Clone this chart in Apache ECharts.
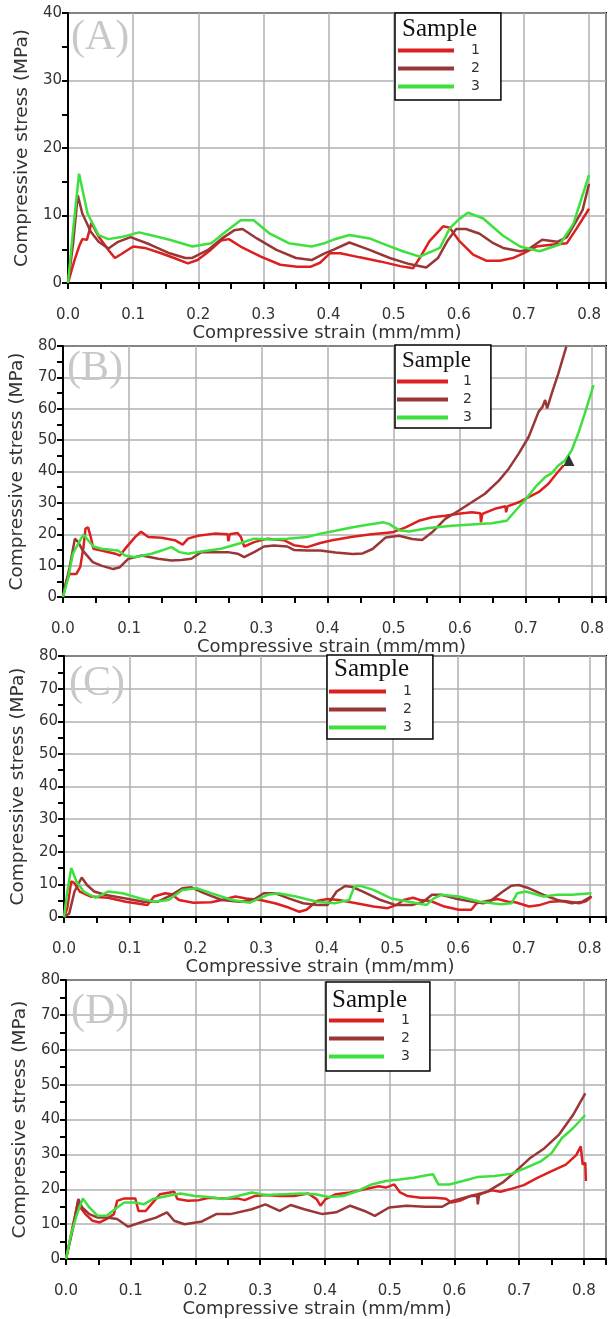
<!DOCTYPE html>
<html>
<head>
<meta charset="utf-8">
<script src="https://cdn.jsdelivr.net/npm/echarts@6/dist/echarts.min.js"></script>
<style>
  html, body { margin: 0; padding: 0; background: #fff; }
  #chart { width: 609px; height: 1319px; }
</style>
</head>
<body>
<div id="chart"></div>
<script>
// Stress–strain curves, [strain (mm/mm), stress (MPa)]

// (A)
const A1 = [[0,0],[0.01,3.4],[0.017,5.4],[0.022,6.5],[0.029,6.4],[0.036,8.9],[0.047,6.9],[0.062,4.9],[0.072,3.7],[0.082,4.3],[0.1,5.4],[0.118,5.2],[0.143,4.4],[0.163,3.7],[0.184,2.9],[0.199,3.4],[0.219,4.9],[0.235,6.3],[0.247,6.5],[0.265,5.4],[0.296,3.9],[0.326,2.7],[0.352,2.4],[0.372,2.4],[0.387,3.0],[0.402,4.4],[0.418,4.4],[0.448,3.8],[0.479,3.2],[0.51,2.5],[0.53,2.2],[0.54,3.7],[0.555,6.2],[0.576,8.4],[0.586,8.2],[0.601,6.2],[0.622,4.2],[0.642,3.3],[0.663,3.3],[0.683,3.7],[0.699,4.4],[0.719,5.4],[0.745,5.7],[0.766,5.9],[0.781,8.1],[0.8,11.0]];
const A2 = [[0,0],[0.008,6],[0.015,13.0],[0.022,10.3],[0.035,7.6],[0.047,6.1],[0.062,5.1],[0.077,6.1],[0.096,6.8],[0.126,5.7],[0.156,4.4],[0.18,3.7],[0.19,3.7],[0.215,4.9],[0.235,6.5],[0.255,7.8],[0.268,8.0],[0.29,6.6],[0.32,4.9],[0.35,3.7],[0.374,3.4],[0.394,4.4],[0.407,4.9],[0.432,6.0],[0.463,4.9],[0.494,3.7],[0.524,2.8],[0.55,2.3],[0.568,3.7],[0.583,6.3],[0.596,8.0],[0.611,8.0],[0.632,7.3],[0.653,5.9],[0.668,5.2],[0.694,4.7],[0.705,4.9],[0.728,6.4],[0.751,6.1],[0.766,6.8],[0.79,10.8],[0.8,14.7]];
const A3 = [[0,0],[0.008,8],[0.017,16.2],[0.03,10.3],[0.047,7.1],[0.062,6.5],[0.082,6.8],[0.109,7.5],[0.131,7.0],[0.156,6.4],[0.191,5.4],[0.22,5.9],[0.245,7.8],[0.265,9.3],[0.285,9.3],[0.31,7.3],[0.339,5.9],[0.374,5.4],[0.394,5.9],[0.407,6.4],[0.432,7.1],[0.463,6.6],[0.489,5.6],[0.514,4.7],[0.54,3.9],[0.571,5.2],[0.586,8.1],[0.601,9.5],[0.614,10.4],[0.637,9.6],[0.668,7.0],[0.694,5.4],[0.724,4.7],[0.755,5.7],[0.776,8.8],[0.79,13.0],[0.8,16.0]];

// (B)
const B1 = [[0,0],[0.005,5.2],[0.01,7.3],[0.02,7.3],[0.026,9.5],[0.031,15.9],[0.034,21.8],[0.038,22.2],[0.042,19.1],[0.046,15.4],[0.058,14.8],[0.079,13.8],[0.086,13.2],[0.096,15.9],[0.109,19.1],[0.118,20.8],[0.129,19.1],[0.149,18.9],[0.169,18.1],[0.181,16.7],[0.189,18.6],[0.204,19.5],[0.229,20.2],[0.249,20.0],[0.25,17.8],[0.252,20.0],[0.264,20.4],[0.269,19.1],[0.274,16.1],[0.289,17.5],[0.309,18.6],[0.334,18.1],[0.349,16.5],[0.369,15.9],[0.389,17.2],[0.407,18.1],[0.438,19.2],[0.463,19.9],[0.498,20.6],[0.518,22.2],[0.538,24.3],[0.558,25.4],[0.578,25.9],[0.598,26.5],[0.618,27.0],[0.631,26.7],[0.632,23.8],[0.634,26.5],[0.653,28.1],[0.669,28.9],[0.67,27.0],[0.672,28.9],[0.689,30.2],[0.704,31.8],[0.719,33.4],[0.734,36.1],[0.746,39.3],[0.757,42.0]];
const B2 = [[0,0],[0.01,9.5],[0.018,18.6],[0.023,17.5],[0.03,14.8],[0.045,11.1],[0.058,10.0],[0.076,8.9],[0.086,9.5],[0.099,12.2],[0.119,13.2],[0.144,12.2],[0.164,11.6],[0.179,11.8],[0.194,12.2],[0.209,14.3],[0.229,14.3],[0.249,14.3],[0.264,13.8],[0.274,12.7],[0.289,14.3],[0.304,16.1],[0.319,16.4],[0.339,16.1],[0.349,15.0],[0.369,14.8],[0.389,14.8],[0.412,14.2],[0.438,13.7],[0.453,13.9],[0.468,15.3],[0.488,19.0],[0.508,19.5],[0.528,18.5],[0.543,18.2],[0.558,20.6],[0.578,24.9],[0.598,27.5],[0.618,30.2],[0.638,32.9],[0.659,37.1],[0.674,40.9],[0.689,45.7],[0.704,51.0],[0.719,59.0],[0.725,60.6],[0.729,62.8],[0.732,60.1],[0.739,64.9],[0.749,71.3],[0.761,79.8]];
const B3 = [[0,0],[0.008,6.2],[0.015,13.8],[0.023,17.0],[0.031,19.9],[0.038,18.1],[0.046,16.1],[0.058,15.4],[0.083,14.8],[0.094,13.2],[0.109,12.7],[0.134,13.8],[0.149,14.8],[0.164,15.9],[0.176,14.3],[0.189,13.8],[0.209,14.5],[0.239,15.4],[0.269,17.2],[0.289,18.6],[0.314,18.3],[0.339,18.6],[0.369,19.1],[0.389,20.2],[0.412,21.1],[0.438,22.2],[0.463,23.1],[0.485,23.8],[0.493,23.3],[0.508,21.3],[0.523,20.9],[0.553,22.0],[0.588,22.7],[0.618,23.1],[0.648,23.5],[0.671,24.3],[0.684,27.5],[0.699,31.0],[0.714,35.0],[0.729,38.2],[0.739,39.5],[0.749,41.9],[0.759,43.5],[0.769,46.7],[0.779,52.1],[0.789,58.5],[0.799,65.4],[0.802,67.5]];
const B_MARK = [[0.765, 43.5]];

// (C)
const C1 = [[0,0],[0.005,2.7],[0.011,10.9],[0.016,10.4],[0.024,7.8],[0.04,6.3],[0.067,5.9],[0.094,4.7],[0.127,3.7],[0.137,6.3],[0.154,7.3],[0.164,7.0],[0.175,5.2],[0.197,4.4],[0.224,4.5],[0.24,5.2],[0.261,6.3],[0.277,5.7],[0.299,5.2],[0.321,4.2],[0.342,2.9],[0.358,1.6],[0.369,2.2],[0.385,4.9],[0.401,5.5],[0.418,5.2],[0.445,4.2],[0.471,3.2],[0.493,2.7],[0.506,3.7],[0.517,5.2],[0.531,5.9],[0.542,5.2],[0.558,4.9],[0.579,3.2],[0.601,2.2],[0.62,2.2],[0.628,4.2],[0.644,4.9],[0.66,5.5],[0.676,4.7],[0.687,4.5],[0.708,3.2],[0.725,3.7],[0.741,4.7],[0.762,4.9],[0.784,4.2],[0.795,4.9],[0.803,6.3]];
const C2 = [[0,0],[0.008,1.1],[0.016,7.8],[0.027,12.1],[0.035,9.8],[0.046,7.8],[0.062,6.8],[0.094,5.7],[0.121,4.7],[0.143,4.7],[0.164,6.8],[0.18,8.8],[0.194,9.1],[0.213,7.3],[0.24,5.2],[0.267,4.7],[0.288,5.2],[0.304,7.3],[0.321,7.3],[0.342,5.7],[0.364,4.2],[0.385,3.7],[0.401,3.7],[0.415,7.8],[0.428,9.5],[0.439,9.2],[0.455,7.8],[0.482,5.2],[0.504,3.7],[0.531,3.7],[0.547,4.7],[0.56,6.8],[0.574,6.8],[0.595,5.7],[0.622,4.7],[0.638,4.2],[0.649,4.9],[0.668,7.8],[0.681,9.6],[0.692,9.8],[0.708,8.8],[0.73,6.8],[0.751,5.2],[0.773,4.2],[0.789,4.7],[0.803,6.3]];
const C3 = [[0,0],[0.005,7.8],[0.011,15.0],[0.019,10.9],[0.03,7.8],[0.048,5.9],[0.067,7.8],[0.089,7.3],[0.116,5.7],[0.137,4.7],[0.159,5.2],[0.18,8.3],[0.202,8.8],[0.224,7.3],[0.256,5.2],[0.283,4.4],[0.31,6.8],[0.326,7.3],[0.353,6.3],[0.385,4.7],[0.412,4.2],[0.434,5.2],[0.442,9.3],[0.45,9.6],[0.471,8.3],[0.498,5.7],[0.525,4.7],[0.552,3.7],[0.563,5.7],[0.574,6.8],[0.601,6.3],[0.633,4.7],[0.665,3.9],[0.681,4.2],[0.69,7.3],[0.703,7.8],[0.73,6.3],[0.751,6.8],[0.773,6.8],[0.803,7.3]];

// (D)
const D1 = [[0,0],[0.006,5.3],[0.011,10],[0.019,16.7],[0.022,14.8],[0.03,12.9],[0.041,11],[0.052,10.5],[0.063,11.5],[0.074,12.9],[0.079,16.7],[0.09,17.4],[0.107,17.4],[0.112,13.8],[0.123,13.8],[0.134,16.2],[0.145,18.6],[0.167,19.3],[0.172,17.2],[0.188,16.7],[0.205,16.9],[0.221,17.6],[0.243,17.4],[0.265,17.4],[0.276,16.9],[0.292,18.1],[0.308,18.4],[0.33,18.1],[0.352,18.1],[0.374,18.8],[0.387,17.2],[0.393,15.3],[0.401,17.2],[0.417,18.6],[0.439,19.1],[0.461,20.0],[0.483,20.9],[0.494,20.5],[0.507,21.4],[0.516,19.1],[0.527,18.1],[0.548,17.6],[0.57,17.6],[0.587,17.3],[0.595,16.2],[0.608,16.7],[0.625,18.1],[0.646,19.1],[0.658,19.7],[0.671,19.3],[0.685,20.0],[0.707,21.2],[0.728,23.3],[0.75,25.2],[0.772,27.1],[0.788,29.8],[0.795,32.3],[0.798,27.1],[0.802,27.6],[0.803,22.4]];
const D2 = [[0,0],[0.011,9.1],[0.019,17.2],[0.025,14.8],[0.036,12.9],[0.049,11.9],[0.063,11.9],[0.079,11.5],[0.096,9.3],[0.107,10],[0.123,11.0],[0.139,11.9],[0.156,13.4],[0.167,11.0],[0.183,10.0],[0.21,10.8],[0.232,12.9],[0.254,12.9],[0.287,14.3],[0.308,15.7],[0.33,13.8],[0.347,15.5],[0.368,14.3],[0.396,12.9],[0.417,13.4],[0.439,15.3],[0.461,13.8],[0.477,12.4],[0.499,14.8],[0.526,15.3],[0.554,15.0],[0.581,15.0],[0.597,16.7],[0.625,18.1],[0.635,18.1],[0.636,15.7],[0.638,18.4],[0.652,19.5],[0.674,21.9],[0.695,25.2],[0.717,29.0],[0.739,31.8],[0.761,35.6],[0.783,41.3],[0.802,47.5]];
const D3 = [[0,0],[0.008,7.2],[0.017,12.9],[0.026,17.4],[0.036,14.8],[0.049,12.4],[0.063,12.4],[0.079,14.8],[0.09,16.2],[0.107,16.2],[0.12,15.7],[0.134,17.2],[0.156,18.1],[0.177,18.8],[0.199,18.1],[0.221,17.8],[0.243,17.2],[0.265,18.1],[0.287,19.1],[0.308,18.4],[0.336,18.6],[0.363,18.8],[0.385,18.6],[0.406,17.8],[0.428,18.1],[0.45,19.5],[0.472,21.4],[0.494,22.4],[0.515,22.8],[0.537,23.3],[0.559,24.1],[0.567,24.3],[0.575,21.4],[0.592,21.4],[0.613,22.4],[0.635,23.5],[0.662,23.8],[0.689,24.5],[0.711,26.2],[0.734,28.1],[0.75,30.4],[0.766,34.7],[0.783,37.5],[0.802,41.3]];

const SERIES_NAMES = ['1', '2', '3'];
const SERIES_COLORS = ['#dc2020', '#9a3636', '#3ee03e'];
const X_TITLE = 'Compressive strain (mm/mm)';
const Y_TITLE = 'Compressive stress (MPa)';
const LEGEND_TITLE = 'Sample';

const SANS = 'DejaVu Sans';
const SERIF = 'Liberation Serif';

// Layout of the four stacked panels
const panels = [
  { tag: '(A)', curves: [A1, A2, A3], yMax: 40, xMax: 0.826,
    grid: { left: 68, top: 13, width: 539, height: 270 },
    xGap: 34, xShift: 10, yGap: 36,
    legend: { left: 395, top: 13, padding: [30, 21, 6, 3], iconW: 56, textPad: 12 },
    sample: { x: 402, y: 29, size: 25 },
    label: { x: 71, y: 38 } },
  { tag: '(B)', curves: [B1, B2, B3], yMax: 80, xMax: 0.821,
    grid: { left: 62, top: 346, width: 546, height: 251 },
    xGap: 30, xShift: 3, yGap: 32,
    legend: { left: 395, top: 345, padding: [29, 19, 3, 2], iconW: 51, textPad: 10 },
    sample: { x: 402, y: 361, size: 23 },
    label: { x: 67, y: 369 } },
  { tag: '(C)', curves: [C1, C2, C3], yMax: 80, xMax: 0.825,
    grid: { left: 64, top: 656, width: 542, height: 261 },
    xGap: 32, xShift: 15, yGap: 35,
    legend: { left: 327, top: 655, padding: [29, 21, 4, 2], iconW: 57, textPad: 12 },
    sample: { x: 334, y: 669, size: 25 },
    label: { x: 69, y: 684 } },
  { tag: '(D)', curves: [D1, D2, D3], yMax: 80, xMax: 0.834,
    grid: { left: 66, top: 980, width: 542, height: 283 },
    xGap: 38, xShift: 19, yGap: 33,
    legend: { left: 326, top: 982, padding: [31, 20, 7, 3], iconW: 55, textPad: 12 },
    sample: { x: 332, y: 1000, size: 25 },
    label: { x: 71, y: 1012 } }
];

const grids = [], xAxes = [], yAxes = [], series = [], legends = [], graphics = [];

const tickStyle = { color: '#000', width: 2 };
const splitStyle = { color: '#b0b0b0', width: 1.5 };

panels.forEach((p, i) => {
  grids.push(Object.assign({ show: true, borderColor: '#000', borderWidth: 2, containLabel: false }, p.grid));

  xAxes.push({
    gridIndex: i, type: 'value', min: 0, max: p.xMax, interval: 0.1,
    axisLine: { show: true, onZero: false, lineStyle: { color: '#000', width: 2 } },
    axisTick: { show: true, length: 6, lineStyle: tickStyle },
    minorTick: { show: true, splitNumber: 2, length: 6, lineStyle: tickStyle },
    splitLine: { show: true, lineStyle: splitStyle },
    axisLabel: {
      fontFamily: SANS, fontSize: 15, color: '#333', margin: 25,
      formatter: v => {
        const k = Math.round(v * 10);
        return (Math.abs(v * 10 - k) < 1e-6 && k <= 8) ? (k / 10).toFixed(1) : '';
      }
    },
    name: X_TITLE, nameLocation: 'middle', nameGap: p.xGap,
    nameTextStyle: { fontFamily: SANS, fontSize: 18, color: '#333',
                     padding: [0, 2 * p.xShift, 0, 0] }
  });

  yAxes.push({
    gridIndex: i, type: 'value', min: 0, max: p.yMax, interval: 10,
    axisLine: { show: true, onZero: false, lineStyle: { color: '#000', width: 2 } },
    axisTick: { show: true, length: 6, lineStyle: tickStyle },
    minorTick: { show: true, splitNumber: 2, length: 6, lineStyle: tickStyle },
    splitLine: { show: true, lineStyle: splitStyle },
    axisLabel: { fontFamily: SANS, fontSize: 15, color: '#333', margin: 6 },
    name: Y_TITLE, nameLocation: 'middle', nameGap: p.yGap, nameRotate: 90,
    nameTextStyle: { fontFamily: SANS, fontSize: 18.5, color: '#333' }
  });

  p.curves.forEach((data, k) => {
    series.push({
      type: 'line', name: SERIES_NAMES[k], xAxisIndex: i, yAxisIndex: i,
      data: data, showSymbol: false, symbol: 'none', smooth: false,
      color: SERIES_COLORS[k],
      lineStyle: { color: SERIES_COLORS[k], width: 2.5 },
      emphasis: { disabled: true }, z: 3
    });
  });

  legends.push({
    orient: 'vertical', left: p.legend.left, top: p.legend.top,
    data: SERIES_NAMES, icon: 'rect',
    itemWidth: p.legend.iconW, itemHeight: 4, itemGap: 3,
    padding: p.legend.padding,
    borderColor: '#000', borderWidth: 1.5, backgroundColor: '#fff',
    selectedMode: false, z: 10,
    textStyle: { fontFamily: SANS, fontSize: 14, color: '#333', lineHeight: 15,
                 padding: [0, 0, 0, p.legend.textPad] }
  });

  graphics.push({
    type: 'text', x: p.sample.x, y: p.sample.y, z: 100,
    style: { text: LEGEND_TITLE, font: p.sample.size + 'px "' + SERIF + '"', fill: '#111',
             align: 'left', verticalAlign: 'middle' }
  });
  graphics.push({
    type: 'text', x: p.label.x, y: p.label.y, z: 100,
    style: { text: p.tag, font: '42px "' + SERIF + '"', fill: '#c8c8c8',
             align: 'left', verticalAlign: 'middle' }
  });
});

// Triangle marker on sample 3 in panel (B)
series.push({
  type: 'scatter', name: 'marker', xAxisIndex: 1, yAxisIndex: 1,
  data: B_MARK, symbol: 'triangle', symbolSize: 11,
  itemStyle: { color: '#000' }, emphasis: { disabled: true }, z: 5
});

const chart = echarts.init(document.getElementById('chart'), null, { renderer: 'canvas' });
chart.setOption({
  animation: false,
  backgroundColor: '#fff',
  grid: grids, xAxis: xAxes, yAxis: yAxes,
  legend: legends, series: series, graphic: graphics
});
</script>
</body>
</html>
